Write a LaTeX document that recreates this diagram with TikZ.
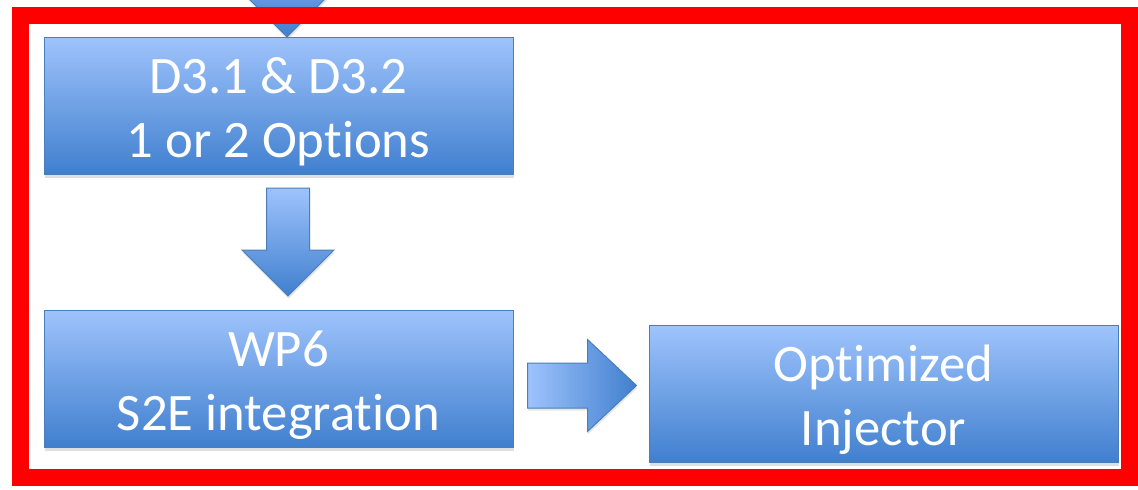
\documentclass[tikz,border=0pt]{standalone}
\usepackage{fontspec}
\setmainfont{Carlito}[Ligatures=NoCommon]
\usetikzlibrary{positioning,calc,shadows}
\definecolor{boxtop}{RGB}{158,195,252}
\definecolor{boxbot}{RGB}{64,127,206}
\definecolor{boxline}{RGB}{74,126,187}
\definecolor{framered}{RGB}{255,0,0}
\newcommand{\boxstrut}{\rule{0pt}{35.5pt}}

\begin{document}
\begin{tikzpicture}[x=0.75pt,y=-0.75pt,node distance=101.25pt,
    wp box/.style={rectangle,draw=boxline,line width=0.75pt,
      top color=boxtop,bottom color=boxbot,
      minimum width=351.75pt,minimum height=102.75pt,
      text=white,align=center,font=\fontsize{39.5}{48}\selectfont,
      drop shadow={shadow xshift=0.5pt,shadow yshift=-2.5pt,opacity=0.25}},
    block arrow/.style={draw=boxline,line width=0.75pt,line join=miter,
      drop shadow={shadow xshift=0.5pt,shadow yshift=-2pt,opacity=0.2}}]

  \useasboundingbox (0,0) rectangle (1138,489);
  \clip (0,0) rectangle (1138,489);

  \node[wp box] (d3) at (278.5,106) {\boxstrut D3.1 \& D3.2\\1 or 2 Options};
  \node[wp box,below=of d3] (wp6) {\boxstrut WP6\\S2E integration};
  \node[wp box,right=of wp6,yshift=-11.6pt] (inj) {\boxstrut Optimized\\Injector};

  % arrow coming in from above
  \draw[block arrow,top color=boxtop,bottom color=boxbot]
    ($(d3.north)+(8.5,0)$) -- ++(-46,-46) -- ++(24.5,0) -- ++(0,-60)
    -- ++(43,0) -- ++(0,60) -- ++(24.5,0) -- cycle;

  % d3 -> wp6
  \draw[block arrow,top color=boxtop,bottom color=boxbot]
    ($(d3.south)+(-12,13)$) -- ++(43,0) -- ++(0,62) -- ++(24.5,0)
    -- ++(-46,46) -- ++(-46,-46) -- ++(24.5,0) -- cycle;

  % wp6 -> inj
  \draw[block arrow,left color=boxtop,right color=boxbot]
    ($(wp6.east)+(14,-16)$) -- ++(60,0) -- ++(0,-23.5) -- ++(49,46)
    -- ++(-49,46) -- ++(0,-23.5) -- ++(-60,0) -- cycle;

  \draw[framered,line width=12.75pt] (20,15.5) rectangle (1129,477);
\end{tikzpicture}
\end{document}
